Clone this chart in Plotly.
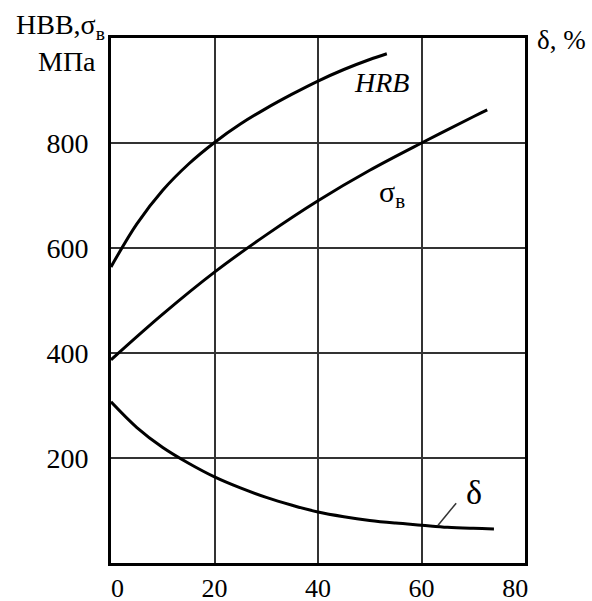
import plotly.graph_objects as go

# data
hrb_x = [0, 5, 10, 15, 20, 25, 30, 35, 40, 45, 50, 53.3]
hrb_y = [564, 646, 710, 760, 801, 836, 866, 893, 918, 940, 959, 970]

sig_x = [0, 10, 20, 30, 40, 50, 60, 70, 72.7]
sig_y = [387, 474, 554, 625, 690, 748, 800, 850, 863]

del_x = [0, 5, 10, 15, 20, 25, 30, 35, 40, 45, 50, 55, 60, 65, 70, 74]
del_y = [307, 258, 220, 190, 164, 143, 125, 110, 97, 88, 81, 76, 72, 68, 66, 65]

x_ticks = [0, 20, 40, 60, 80]
x_labels = ["\u00a0\u00a00", "20", "40", "60", "80\u00a0\u00a0\u00a0"]
y_ticks = [200, 400, 600, 800]

FONT = "Liberation Serif"

fig = go.Figure()
line = dict(color="black", width=3, shape="spline", smoothing=1.0)
fig.add_trace(go.Scatter(x=hrb_x, y=hrb_y, mode="lines", line=line, name="HRB"))
fig.add_trace(go.Scatter(x=sig_x, y=sig_y, mode="lines", line=line, name="σв"))
fig.add_trace(go.Scatter(x=del_x, y=del_y, mode="lines", line=line, name="δ"))

fig.update_layout(
    width=592, height=601,
    margin=dict(l=111, r=67, t=38, b=38),
    paper_bgcolor="white", plot_bgcolor="white",
    showlegend=False,
    font=dict(family=FONT, size=28, color="black"),
    xaxis=dict(range=[0, 80], tickvals=x_ticks, ticktext=x_labels,
               showgrid=True, gridcolor="#333", gridwidth=1.5,
               showline=True, linecolor="black", linewidth=3, mirror=True,
               ticks="", zeroline=False, ticklabelstandoff=0, automargin=False,
               tickfont=dict(family=FONT, size=26)),
    yaxis=dict(range=[0, 1000], tickvals=y_ticks, ticktext=[str(v) for v in y_ticks],
               showgrid=True, gridcolor="#333", gridwidth=1.5,
               showline=True, linecolor="black", linewidth=3, mirror=True,
               ticks="", zeroline=False, ticklabelstandoff=14, automargin=False,
               tickfont=dict(family=FONT, size=28)),
)

def px(xp):
    return (xp - 111) / 414

def py(yp):
    return (563 - yp) / 525

ann = [
    dict(text="HBB,σ<sub>в</sub>", x=px(60), y=py(27), size=28),
    dict(text="МПа", x=px(67), y=py(61), size=28),
    dict(text="δ, %", x=px(561), y=py(40), size=27),
]
for a in ann:
    fig.add_annotation(text=a["text"], x=a["x"], y=a["y"], xref="paper", yref="paper",
                       showarrow=False, xanchor="center", yanchor="middle",
                       font=dict(family=FONT, size=a["size"], color="black"))

fig.add_annotation(text="<i>HRB</i>", x=52.2, y=916, xref="x", yref="y", showarrow=False,
                   font=dict(family=FONT, size=28, color="black"))
fig.add_annotation(text="σ<sub>в</sub>", x=54.3, y=702, xref="x", yref="y", showarrow=False,
                   font=dict(family=FONT, size=30, color="black"))
fig.add_annotation(text="δ", x=70.1, y=135, xref="x", yref="y", showarrow=False,
                   font=dict(family=FONT, size=34, color="black"))
fig.add_shape(type="line", x0=66.7, y0=114, x1=63.2, y1=72, xref="x", yref="y",
              line=dict(color="#333", width=1.5))

fig.write_html("out.html")
